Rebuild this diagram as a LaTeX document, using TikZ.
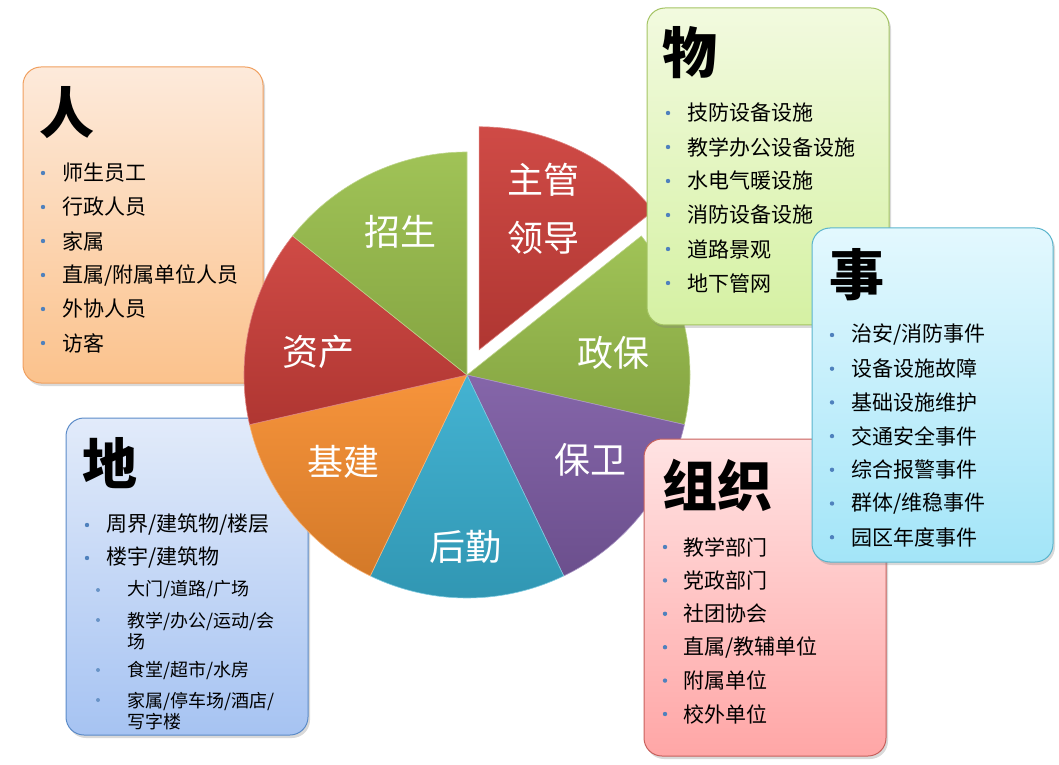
\documentclass[tikz,border=0pt]{standalone}
\usepackage{fontspec}
\setmainfont{Noto Sans CJK SC}
\usetikzlibrary{shadows}
\definecolor{pieRed}{HTML}{CC3F3A}
\definecolor{pieGreen}{HTML}{9ABF4C}
\definecolor{piePurple}{HTML}{7D5CA4}
\definecolor{pieCyan}{HTML}{38AECF}
\definecolor{pieOrange}{HTML}{F68D2F}
\definecolor{bulletblue}{HTML}{4F81BD}
\definecolor{renBorder}{HTML}{F0A060}
\definecolor{renTop}{HTML}{FDEADB}
\definecolor{renBottom}{HTML}{FBC28C}
\definecolor{wuBorder}{HTML}{A4C464}
\definecolor{wuTop}{HTML}{F2FADF}
\definecolor{wuBottom}{HTML}{D5F1A3}
\definecolor{shiBorder}{HTML}{5AB4CC}
\definecolor{shiTop}{HTML}{E3F8FE}
\definecolor{shiBottom}{HTML}{A3E5F8}
\definecolor{diBorder}{HTML}{5B8BC8}
\definecolor{diTop}{HTML}{E2EBFA}
\definecolor{diBottom}{HTML}{A6C3F2}
\definecolor{zzBorder}{HTML}{C8605C}
\definecolor{zzTop}{HTML}{FFE3E3}
\definecolor{zzBottom}{HTML}{FFA6A6}

\tikzset{
  panel/.style={draw=#1, line width=1pt, rounded corners=18pt, inner sep=0pt,
    drop shadow={opacity=0.3, shadow xshift=2pt, shadow yshift=-3pt}},
  heading/.style={font=\fontsize{55}{60}\selectfont\bfseries, inner sep=0pt},
  entry/.style={font=\fontsize{21}{25}\selectfont, anchor=west, inner sep=0pt},
  subentry/.style={font=\fontsize{18}{21.7}\selectfont, anchor=west, inner sep=0pt, align=left},
  slicelabel/.style={font=\fontsize{36}{58}\selectfont, text=white, align=center, inner sep=0pt},
}

\begin{document}
\begin{tikzpicture}[x=1pt, y=1pt]
    \useasboundingbox (0,0) rectangle (1059,764);

    % 人
    \node[panel=renBorder, top color=renTop, bottom color=renBottom,
          minimum width=240pt, minimum height=316pt] (renbox) at (143,539) {};
    \node[heading] (rentitle) at (67,651) {人};
    \foreach \t [count=\i] in {师生员工,行政人员,家属,直属/附属单位人员,外协人员,访客} {
        \node[entry] (ren\i) at (62,625-34*\i) {\t};
        \fill[bulletblue] (43,625-34*\i) circle (2.2pt);
    }

    % 地
    \node[panel=diBorder, top color=diTop, bottom color=diBottom,
          minimum width=242pt, minimum height=317pt] (dibox) at (187,187.5) {};
    \node[heading] (dititle) at (110,301) {地};
    \node[entry] (di1) at (106,239) {周界/建筑物/楼层};
    \node[entry] (di2) at (106,206) {楼宇/建筑物};
    \fill[bulletblue] (87,239) circle (2.2pt);
    \fill[bulletblue] (87,206) circle (2.2pt);
    \node[subentry] (di3) at (127,174) {大门/道路/广场};
    \node[subentry] (di4) at (127,133) {教学/办公/运动/会\\场};
    \node[subentry] (di5) at (127,94) {食堂/超市/水房};
    \node[subentry] (di6) at (127,53) {家属/停车场/酒店/\\写字楼};
    \foreach \y in {174,144,94,64} {
        \fill[bulletblue!85] (98,\y) circle (2pt);
    }

    % pie
    \begin{scope}[shift={(467,389)}]
        \foreach \a/\c in {38.57/pieGreen,-12.86/piePurple,-64.29/pieCyan,
                           -115.71/pieOrange,-167.14/pieRed,-218.57/pieGreen} {
            \path[top color=\c!94!white, bottom color=\c!86!black, draw=\c!65!white, line width=0.6pt]
                (0,0) -- (\a:223) arc[start angle=\a, end angle=\a-51.43, radius=223pt] -- cycle;
        }
        \path[shift={(64.29:28)}, top color=pieRed!94!white, bottom color=pieRed!86!black,
              draw=pieRed!65!white, line width=0.6pt]
            (0,0) -- (90:223) arc[start angle=90, end angle=38.57, radius=223pt] -- cycle;
    \end{scope}
    \node[slicelabel] (zhuguan) at (543,555) {主管\\领导};
    \node[slicelabel] (zhengbao) at (613,411) {政保};
    \node[slicelabel] (baowei) at (590,304) {保卫};
    \node[slicelabel] (houqin) at (465,217) {后勤};
    \node[slicelabel] (jijian) at (343,302) {基建};
    \node[slicelabel] (zichan) at (318,412) {资产};
    \node[slicelabel] (zhaosheng) at (400,532) {招生};

    % 物
    \node[panel=wuBorder, top color=wuTop, bottom color=wuBottom,
          minimum width=242pt, minimum height=317pt] (wubox) at (768,597.5) {};
    \node[heading] (wutitle) at (690,711) {物};
    \foreach \t [count=\i] in {技防设备设施,教学办公设备设施,水电气暖设施,消防设备设施,道路景观,地下管网} {
        \node[entry] (wu\i) at (687,685-34*\i) {\t};
        \fill[bulletblue] (668,685-34*\i) circle (2.2pt);
    }

    % 组织
    \node[panel=zzBorder, top color=zzTop, bottom color=zzBottom,
          minimum width=242pt, minimum height=317pt] (zzbox) at (765,166.5) {};
    \node[heading] (zztitle) at (717,279) {组织};
    \foreach \t [count=\i] in {教学部门,党政部门,社团协会,直属/教辅单位,附属单位,校外单位} {
        \node[entry] (zz\i) at (683,250.4-33.4*\i) {\t};
        \fill[bulletblue] (665,250.4-33.4*\i) circle (2.2pt);
    }

    % 事
    \node[panel=shiBorder, top color=shiTop, bottom color=shiBottom,
          minimum width=241pt, minimum height=334pt] (shibox) at (932.5,369) {};
    \node[heading] (shititle) at (857,489) {事};
    \foreach \t [count=\i] in {治安/消防事件,设备设施故障,基础设施维护,交通安全事件,综合报警事件,群体/维稳事件,园区年度事件} {
        \node[entry] (shi\i) at (851,462.7-33.7*\i) {\t};
        \fill[bulletblue] (832,462.7-33.7*\i) circle (2.2pt);
    }
\end{tikzpicture}
\end{document}
